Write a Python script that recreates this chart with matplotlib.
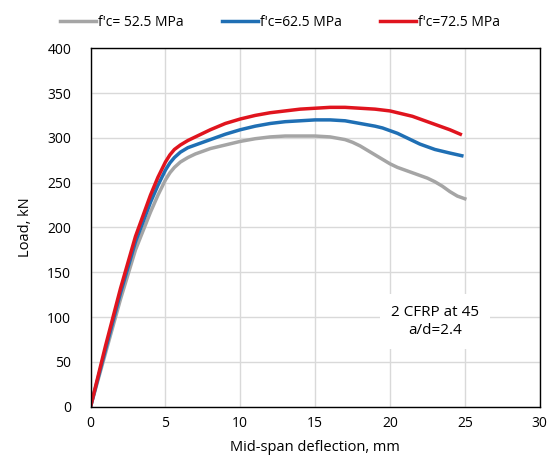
import matplotlib
matplotlib.use("Agg")
from matplotlib import pyplot as plt

plt.rcParams['font.family'] = ['Open Sans', 'DejaVu Sans']

# deflection (mm) and load (kN)
x_525 = [0, 1, 2, 3, 4, 4.5, 5, 5.3, 5.6, 6, 6.5, 7, 8, 9, 10, 11, 12, 13, 14, 15, 16, 17,
         17.5, 18, 18.5, 19, 19.5, 20, 20.5, 21, 21.5, 22, 22.5, 23, 23.5, 24, 24.5, 25]
y_525 = [0, 60, 120, 175, 217, 236, 253, 261, 267, 273, 278, 282, 288, 292, 296, 299, 301, 302, 302, 302, 301, 298,
         295, 291, 286, 281, 276, 271, 267, 264, 261, 258, 255, 251, 246, 240, 235, 232]

x_625 = [0, 1, 2, 3, 4, 4.5, 5, 5.3, 5.6, 6, 6.5, 7, 8, 9, 10, 11, 12, 13, 14, 15, 16, 17,
         18, 19, 19.5, 20, 20.5, 21, 21.5, 22, 22.5, 23, 23.5, 24, 24.8]
y_625 = [0, 64, 127, 184, 228, 247, 264, 272, 278, 284, 289, 292, 298, 304, 309, 313, 316, 318, 319, 320, 320, 319,
         316, 313, 311, 308, 305, 301, 297, 293, 290, 287, 285, 283, 280]

x_725 = [0, 1, 2, 3, 4, 4.5, 5, 5.3, 5.6, 6, 6.5, 7, 8, 9, 10, 11, 12, 13, 14, 15, 16, 17,
         18, 19, 20, 20.5, 21, 21.5, 22, 22.5, 23, 23.5, 24, 24.7]
y_725 = [0, 68, 132, 190, 236, 256, 273, 281, 287, 292, 297, 301, 309, 316, 321, 325, 328, 330, 332, 333, 334, 334,
         333, 332, 330, 328, 326, 324, 321, 318, 315, 312, 309, 304]

labels = ["f'c= 52.5 MPa", "f'c=62.5 MPa", "f'c=72.5 MPa"]

fig = plt.figure(figsize=(5.49, 4.59), dpi=100)
ax = fig.add_axes([0.165, 0.114, 0.818, 0.781])

ax.plot(x_525, y_525, c='#A5A5A5', lw=2.5, label=labels[0], solid_joinstyle='round')
ax.plot(x_625, y_625, c='#1F6FB4', lw=2.5, label=labels[1], solid_joinstyle='round')
ax.plot(x_725, y_725, c='#E0141E', lw=2.5, label=labels[2], solid_joinstyle='round')

ax.set_xlim(0, 30)
ax.set_ylim(0, 400)
ax.set_xticks(range(0, 31, 5))
ax.set_yticks(range(0, 401, 50))
ax.grid(True, color='#D9D9D9', lw=1)
ax.set_axisbelow(True)
for s in ax.spines.values():
    s.set_color('black')
    s.set_linewidth(1)
ax.tick_params(axis='y', length=0, labelsize=10, pad=14)
ax.tick_params(axis='x', length=0, labelsize=10, pad=7)

ax.set_xlabel('Mid-span deflection, mm', fontsize=10.5, labelpad=6)
ax.set_ylabel('Load, kN', fontsize=10.5, labelpad=10)

ax.text(23, 95, "2 CFRP at 45\na/d=2.4", ha='center', va='center', fontsize=11,
        linespacing=1.3, bbox=dict(facecolor='white', edgecolor='none', pad=8))

fig.legend(loc='upper center', bbox_to_anchor=(0.51, 0.995), ncol=3, frameon=False,
           fontsize=10, handlelength=2.6, handletextpad=0.1, columnspacing=2.8)

fig.savefig('out.png', dpi=100)
